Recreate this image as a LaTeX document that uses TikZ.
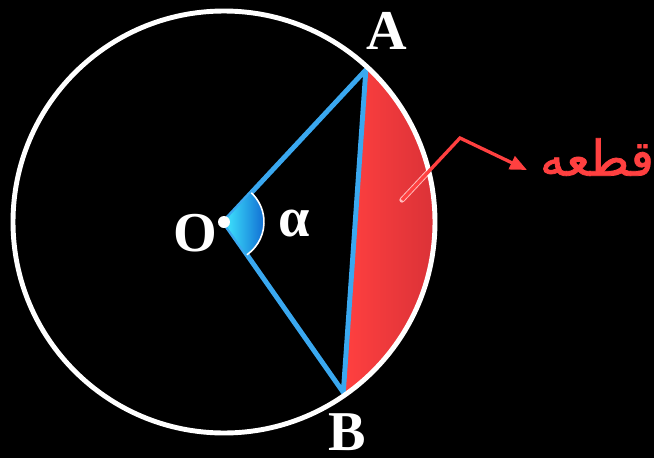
\documentclass[tikz,border=0pt]{standalone}
\usepackage{fontspec}
\setmainfont{Liberation Serif}
\newfontfamily\arabicfont[Script=Arabic]{DejaVu Sans}
\TeXXeTstate=1
\definecolor{SegRed}{RGB}{255,64,64}
\definecolor{SegDark}{RGB}{214,48,54}
\definecolor{ChordBlue}{RGB}{58,168,240}
\definecolor{WedgeLight}{RGB}{64,232,255}
\definecolor{WedgeDark}{RGB}{16,108,210}
\usetikzlibrary{arrows.meta}
\pgfdeclarehorizontalshading{segshade}{100bp}{color(0bp)=(SegRed); color(25bp)=(SegRed); color(52bp)=(SegRed); color(75bp)=(SegDark); color(100bp)=(SegDark)}

\begin{document}
\begin{tikzpicture}[
        x=0.02cm, y=0.02cm, >=Stealth,
        rim/.style={draw=white, line width=2.8pt},
        chord/.style={draw=ChordBlue, line width=2.8pt, line join=round},
        lab/.style={text=white, font=\fontsize{32}{36}\selectfont\bfseries, inner sep=0pt},
        pointer/.style={SegRed, line width=1.9pt, -{Triangle[length=0.34cm, width=0.28cm]}}
    ]
        \useasboundingbox (0,0) rectangle (654,458);
        \fill[black] (0,0) rectangle (654,458);
        \coordinate (O) at (224,236);
        \path (O) ++(47:208) coordinate (A);
        \path (O) ++(-55:208) coordinate (B);
        \coordinate (tail) at (402,258);
        \coordinate (kink) at (460,320);
        \coordinate (tip) at (527,288);

        % the segment
        \shade[shading=segshade] (O) ++(47:211) arc[start angle=47, end angle=-55, radius=211] -- cycle;
        \begin{scope}
            \clip (O) ++(47:211) arc[start angle=47, end angle=-55, radius=211] -- cycle;
            \draw[line width=3pt, white!65!SegRed, line cap=round] (tail) -- (kink);
        \end{scope}

        \draw[chord] (O) -- (A) -- (B) -- cycle;
        \draw[rim] (O) circle[radius=211];

        % the angle
        \shade[left color=WedgeLight, right color=WedgeDark] (O) -- ++(-55:40) arc[start angle=-55, end angle=47, radius=40] -- cycle;
        \draw[white, line width=0.9pt] (O) ++(-55:40) arc[start angle=-55, end angle=47, radius=40];
        \fill[white] (O) circle[radius=6];

        \node[lab] (Olab) at (195,225) {O};
        \node[lab] (alab) at (294,234) {α};
        \node[lab] (Alab) at (387,427) {A};
        \node[lab] (Blab) at (347,26) {B};
        \node[text=SegRed, font=\arabicfont\fontsize{28}{32}\selectfont\addfontfeature{FakeBold=1.5}, inner sep=0pt] (seglabel) at (597,301) {\beginR قطعه\endR};

        \draw[pointer] (tail) -- (kink) -- (tip);
\end{tikzpicture}
\end{document}
